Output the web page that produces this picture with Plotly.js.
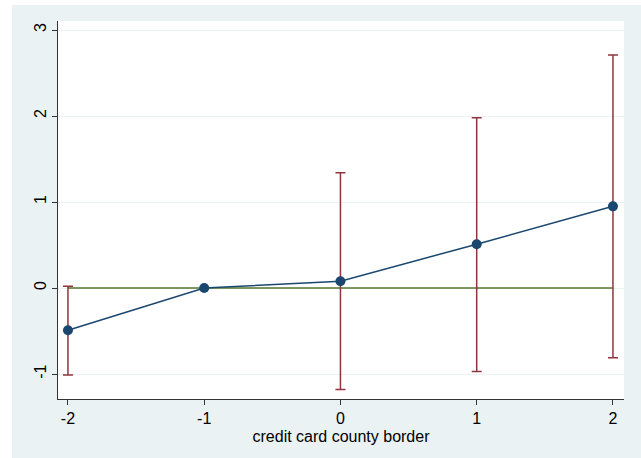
<!DOCTYPE html>
<html>
<head>
<meta charset="utf-8">
<script src="https://cdn.plot.ly/plotly-3.0.1.min.js"></script>
<style>
html,body{margin:0;padding:0;background:#ffffff;}
#chart{position:absolute;left:12px;top:5px;width:629px;height:453px;}
</style>
</head>
<body>
<div id="chart"></div>
<script>
const periods = [-2, -1, 0, 1, 2];
const estimates = [-0.49, 0, 0.08, 0.51, 0.95];
const ciUpper = [0.02, null, 1.34, 1.98, 2.71];
const ciLower = [-1.01, null, -1.18, -0.97, -0.81];
const refLine = [0, 0, 0, 0, 0];
const xTicks = [-2, -1, 0, 1, 2];
const yTicks = [-1, 0, 1, 2, 3];

const errPlus = estimates.map((e, i) => ciUpper[i] === null ? null : ciUpper[i] - e);
const errMinus = estimates.map((e, i) => ciLower[i] === null ? null : e - ciLower[i]);
const ciY = estimates.map((e, i) => ciUpper[i] === null ? null : e);

const traces = [
  {x: periods, y: refLine, mode: 'lines', line: {color: '#55752f', width: 1.5}, hoverinfo: 'skip', showlegend: false},
  {x: periods, y: ciY, mode: 'markers', marker: {opacity: 0, size: 1}, showlegend: false,
   error_y: {type: 'data', symmetric: false, array: errPlus, arrayminus: errMinus, color: '#90353b', thickness: 1.5, width: 5}},
  {x: periods, y: estimates, mode: 'lines+markers', line: {color: '#1a476f', width: 1.5},
   marker: {color: '#1a476f', size: 10}, showlegend: false}
];

const layout = {
  width: 629, height: 453,
  paper_bgcolor: '#eaf2f3', plot_bgcolor: '#ffffff',
  margin: {l: 46, r: 17, t: 16, b: 59},
  font: {family: 'Liberation Sans, Arial, sans-serif', size: 16, color: '#000000'},
  showlegend: false,
  xaxis: {
    range: [-2.073, 2.081], tickvals: xTicks, ticktext: xTicks.map(String),
    showgrid: false, zeroline: false, showline: true, linecolor: '#333333', linewidth: 1,
    ticks: 'outside', ticklen: 5, tickcolor: '#333333',
    title: {text: 'credit card county border', font: {size: 16}, standoff: 4}
  },
  yaxis: {
    range: [-1.29, 3.105], tickvals: yTicks, ticktext: yTicks.map(String), tickangle: -90,
    showgrid: true, gridcolor: '#eaf2f3', gridwidth: 1, zeroline: false,
    showline: true, linecolor: '#333333', linewidth: 1,
    ticks: 'outside', ticklen: 5, tickcolor: '#333333'
  }
};

Plotly.newPlot('chart', traces, layout, {displayModeBar: false, staticPlot: true});
</script>
</body>
</html>
